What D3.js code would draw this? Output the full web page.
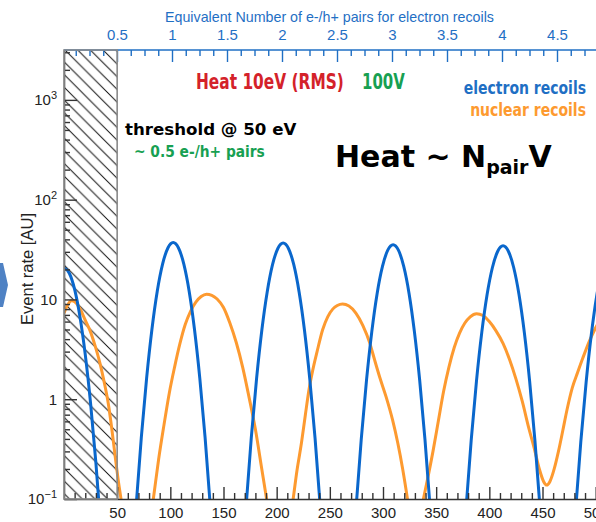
<!DOCTYPE html>
<html>
<head>
<meta charset="utf-8">
<script src="https://cdn.jsdelivr.net/npm/d3@7"></script>
<style>
  body { margin: 0; background: #fff; }
  svg { display: block; }
  .tick text { font-family: "Liberation Sans", Arial, sans-serif; }
</style>
</head>
<body>
<div id="graph"></div>
<script>
// electron recoils: [energy (eV), rate]
var electronRecoils = [
  [0, 20.7], [5, 18.3], [10, 12.6], [15, 6.72], [20, 2.8], [25, 0.91], [30, 0.23], [35, 0.045], [40, 0.007],
  [62.7, 0.0125], [67.7, 0.0814], [72.7, 0.413], [77.7, 1.63], [82.7, 5.03], [87.7, 12.1], [92.7, 22.6], [97.7, 32.8],
  [102.7, 37.2], [107.7, 32.8], [112.7, 22.6], [117.7, 12.1], [122.7, 5.03], [127.7, 1.63], [132.7, 0.413], [137.7, 0.0814], [142.7, 0.0125],
  [166.1, 0.0123], [171.1, 0.0803], [176.1, 0.408], [181.1, 1.61], [186.1, 4.97], [191.1, 11.9], [196.1, 22.3], [201.1, 32.4],
  [206.1, 36.7], [211.1, 32.4], [216.1, 22.3], [221.1, 11.9], [226.1, 4.97], [231.1, 1.61], [236.1, 0.408], [241.1, 0.0803], [246.1, 0.0123],
  [269.5, 0.0118], [274.5, 0.0772], [279.5, 0.392], [284.5, 1.55], [289.5, 4.78], [294.5, 11.5], [299.5, 21.4], [304.5, 31.2],
  [309.5, 35.3], [314.5, 31.2], [319.5, 21.4], [324.5, 11.5], [329.5, 4.78], [334.5, 1.55], [339.5, 0.392], [344.5, 0.0772], [349.5, 0.0118],
  [372.9, 0.0116], [377.9, 0.0755], [382.9, 0.383], [387.9, 1.52], [392.9, 4.67], [397.9, 11.2], [402.9, 20.9], [407.9, 30.4],
  [412.9, 34.5], [417.9, 30.4], [422.9, 20.9], [427.9, 11.2], [432.9, 4.67], [437.9, 1.52], [442.9, 0.383], [447.9, 0.0755], [452.9, 0.0116],
  [476, 0.0112], [481, 0.0733], [486, 0.372], [491, 1.47], [496, 4.53], [501, 10.9], [506, 20.3], [511, 29.6],
  [516, 33.5], [521, 29.6], [526, 20.3], [531, 10.9]
];

// nuclear recoils: [energy (eV), rate]
var nuclearRecoils = [
  [0, 7.3], [4, 9.0], [7, 9.7], [11, 9.3], [16, 7.7], [20, 6.2], [24.4, 4.9], [29, 3.5], [33.8, 2.3], [37.7, 1.5],
  [41.6, 0.91], [44.8, 0.52], [47.9, 0.28], [50.8, 0.16], [53.6, 0.1], [57, 0.055],
  [80, 0.05], [84, 0.1], [89, 0.25], [94, 0.55], [99, 1.15], [104, 2.1], [109, 3.6], [114, 5.6], [119, 7.6], [124, 9.4],
  [129, 10.7], [134, 11.3], [139, 11.0], [144, 10.1], [150, 8.3], [156, 5.8], [162, 3.7], [168, 2.1], [174, 1.05],
  [180, 0.5], [186, 0.2], [190.5, 0.1], [194, 0.055],
  [212, 0.055], [215.5, 0.1], [219, 0.19], [223.4, 0.37], [227, 0.7], [230.7, 1.3], [234, 1.97], [238, 3.0], [243.3, 5.0],
  [248, 6.7], [252.7, 8.0], [257, 8.7], [262, 9.0], [268, 8.6], [274.5, 7.3], [281, 5.5], [287.6, 3.65], [292, 2.5],
  [297, 1.65], [303, 1.05], [309, 0.62], [314, 0.36], [318.5, 0.2], [323, 0.1], [326, 0.06],
  [334, 0.06], [338, 0.1], [342, 0.16], [347, 0.3], [352, 0.6], [357, 1.2], [362, 2.1], [367, 3.3], [372, 4.6], [377, 5.8],
  [382, 6.7], [388, 7.2], [394, 6.9], [400, 6.0], [406, 4.9], [413, 3.6], [419, 2.5], [425, 1.6], [431, 0.95], [437, 0.52],
  [442, 0.33], [447, 0.2], [451, 0.15], [454, 0.138], [457, 0.15], [461, 0.2], [465, 0.3], [469, 0.48], [473, 0.78],
  [478, 1.3], [483, 1.85], [488, 2.6], [494, 3.8], [500, 5.2], [506, 6.6], [512, 7.6], [518, 8.0], [524, 7.9]
];

var energyTicks = [50, 100, 150, 200, 250, 300, 350, 400, 450, 500];
var pairTicks = [0.5, 1, 1.5, 2, 2.5, 3, 3.5, 4, 4.5];
var rateDecades = [0.1, 1, 10, 100, 1000];
var thresholdEnergy = 50;

var blue = "#0a67cc", orange = "#fd9a30", red = "#d4222a", green = "#17a052", textBlue = "#1f6fc4";

function draw() {
    var W = 596, H = 522;
    var frame = {left: 64, top: 50, bottom: 499, right: 702};

    var x = d3.scaleLinear().domain([0, 600]).range([frame.left, frame.right]);
    var xPair = d3.scaleLinear().domain([0, 5.8]).range([62, 62 + 5.8 * 110]);
    var y = d3.scaleLog().domain([0.1, 3162]).range([frame.bottom, frame.top]);

    var svg = d3.select("#graph").append("svg")
        .attr("width", W).attr("height", H);

    var defs = svg.append("defs");
    defs.append("clipPath").attr("id", "plotclip")
        .append("rect")
        .attr("x", frame.left).attr("y", frame.top)
        .attr("width", frame.right - frame.left).attr("height", frame.bottom - frame.top);
    var pat = defs.append("pattern").attr("id", "hatch")
        .attr("patternUnits", "userSpaceOnUse")
        .attr("width", 12.7).attr("height", 12.7)
        .attr("patternTransform", "translate(65," + frame.top + ")");
    pat.append("path")
        .attr("d", "M-1,-1L13.7,13.7M-1,11.7L1,13.7M11.7,-1L13.7,1")
        .attr("stroke", "#111").attr("stroke-width", 1);

    // slide arrow on the left edge
    svg.append("path")
        .attr("d", "M0,263L3,263L8,285L3,307L0,307Z")
        .attr("fill", "#4f82c4");

    // threshold hatched band
    svg.append("rect")
        .attr("x", x(0)).attr("y", frame.top)
        .attr("width", x(thresholdEnergy) - x(0)).attr("height", frame.bottom - frame.top)
        .attr("fill", "url(#hatch)");

    // curves
    var line = d3.line()
        .x(function(d) { return x(d[0]); })
        .y(function(d) { return y(d[1]); })
        .curve(d3.curveMonotoneX);

    var plot = svg.append("g").attr("clip-path", "url(#plotclip)");
    plot.append("path").datum(nuclearRecoils)
        .attr("d", line).attr("fill", "none")
        .attr("stroke", orange).attr("stroke-width", 3).attr("stroke-linejoin", "round");
    plot.append("path").datum(electronRecoils)
        .attr("d", line).attr("fill", "none")
        .attr("stroke", blue).attr("stroke-width", 3).attr("stroke-linejoin", "round");

    // bottom axis (ticks pointing up)
    var minorE = d3.range(10, 600, 10).filter(function(v) { return v % 50 !== 0; });
    svg.append("g").attr("transform", "translate(0," + frame.bottom + ")")
        .call(d3.axisBottom(x).tickValues(minorE).tickFormat("").tickSizeInner(-6).tickSizeOuter(0))
        .call(function(g) { g.select(".domain").remove(); });
    var gx = svg.append("g").attr("transform", "translate(0," + frame.bottom + ")")
        .call(d3.axisBottom(x).tickValues(energyTicks).tickFormat(d3.format("d"))
            .tickSizeInner(-12).tickSizeOuter(0).tickPadding(8));
    gx.selectAll(".tick text").attr("font-size", 15).attr("fill", "#222");
    svg.selectAll("line").attr("stroke", "#333").attr("stroke-width", 1.4);
    gx.select(".domain").attr("stroke", "#333").attr("stroke-width", 1.6);

    // left axis (log, ticks pointing right)
    var minorY = [];
    rateDecades.forEach(function(d) {
        for (var k = 2; k <= 9; k++) if (d * k < 3162) minorY.push(d * k);
    });
    var gyMinor = svg.append("g").attr("transform", "translate(" + frame.left + ",0)")
        .call(d3.axisLeft(y).tickValues(minorY).tickFormat("").tickSizeInner(-6).tickSizeOuter(0));
    gyMinor.select(".domain").remove();
    gyMinor.selectAll("line").attr("stroke", "#333").attr("stroke-width", 1.4);
    var gy = svg.append("g").attr("transform", "translate(" + frame.left + ",0)")
        .call(d3.axisLeft(y).tickValues(rateDecades).tickFormat("")
            .tickSizeInner(-13).tickSizeOuter(0).tickPadding(7));
    gy.selectAll("line").attr("stroke", "#333").attr("stroke-width", 1.4);
    gy.select(".domain").attr("stroke", "#555").attr("stroke-width", 1.6);
    gy.selectAll(".tick text").each(function(d) {
        var t = d3.select(this).attr("font-size", 15).attr("fill", "#222");
        var e = Math.round(Math.log10(d));
        if (e === 0) t.text("1");
        else if (e === 1) t.text("10");
        else {
            t.text("10");
            t.append("tspan").attr("dy", -6).attr("font-size", 11)
                .text(e < 0 ? "\u2212" + (-e) : e);
        }
    });

    // top axis: equivalent pairs (blue, ticks pointing down)
    var minorP = d3.range(1, 47).map(function(i) { return i * 0.125; })
        .filter(function(v) { return Math.abs(v * 2 - Math.round(v * 2)) > 1e-6; });
    var gtMinor = svg.append("g").attr("transform", "translate(0," + frame.top + ")")
        .call(d3.axisTop(xPair).tickValues(minorP).tickFormat("").tickSizeInner(-6).tickSizeOuter(0));
    gtMinor.select(".domain").remove();
    gtMinor.selectAll("line").attr("stroke", textBlue).attr("stroke-width", 1.4);
    var gt = svg.append("g").attr("transform", "translate(0," + frame.top + ")")
        .call(d3.axisTop(xPair).tickValues(pairTicks.concat([5, 5.5])).tickFormat(function(v) {
                return pairTicks.indexOf(v) >= 0 ? d3.format("~g")(v) : "";
            })
            .tickSizeInner(-12).tickSizeOuter(0).tickPadding(10));
    gt.select(".domain").remove();
    gt.selectAll("line").attr("stroke", textBlue).attr("stroke-width", 1.4);
    gt.selectAll(".tick text").attr("font-size", 15).attr("fill", textBlue);
    svg.append("line")
        .attr("x1", frame.left).attr("x2", frame.right)
        .attr("y1", frame.top).attr("y2", frame.top)
        .attr("stroke", textBlue).attr("stroke-width", 1.6);

    // border of the hatched band
    svg.append("rect")
        .attr("x", x(0)).attr("y", frame.top)
        .attr("width", x(thresholdEnergy) - x(0)).attr("height", frame.bottom - frame.top)
        .attr("fill", "none").attr("stroke", "#8a8a8a").attr("stroke-width", 1.6);

    // axis titles
    svg.append("text")
        .attr("x", 165).attr("y", 22)
        .attr("font-family", "Liberation Sans, Arial, sans-serif").attr("font-size", 15)
        .attr("fill", textBlue)
        .attr("textLength", 329).attr("lengthAdjust", "spacingAndGlyphs")
        .text("Equivalent Number of e-/h+ pairs for electron recoils");

    svg.append("text")
        .attr("text-anchor", "middle")
        .attr("transform", "translate(33,269)rotate(-90)")
        .attr("font-family", "Liberation Sans, Arial, sans-serif").attr("font-size", 16)
        .attr("fill", "#222")
        .attr("textLength", 112).attr("lengthAdjust", "spacingAndGlyphs")
        .text("Event rate [AU]");

    // annotations, horizontally squeezed like the slide
    function note(str, x0, y0, size, color, sx, anchor) {
        return svg.append("text")
            .attr("transform", "translate(" + x0 + "," + y0 + ")scale(" + sx + ",1)")
            .attr("text-anchor", anchor || "start")
            .attr("font-family", "DejaVu Sans, Verdana, sans-serif")
            .attr("font-weight", "bold").attr("font-size", size)
            .attr("fill", color)
            .text(str);
    }
    note("Heat 10eV (RMS)", 196, 89, 22, red, 0.70);
    note("100V", 362, 89, 22, green, 0.68);
    note("electron recoils", 586, 94, 17.5, textBlue, 0.80, "end");
    note("nuclear recoils", 586, 116, 17.5, orange, 0.80, "end");
    note("threshold @ 50 eV", 125, 135, 16, "#000", 1.04);
    note("~ 0.5 e-/h+ pairs", 134, 157, 15, green, 0.92);

    var big = svg.append("text")
        .attr("x", 335).attr("y", 167)
        .attr("font-family", "DejaVu Sans, Verdana, sans-serif")
        .attr("font-weight", "bold").attr("font-size", 30)
        .attr("fill", "#000");
    big.append("tspan").text("Heat ~ N");
    big.append("tspan").attr("dy", 7).attr("font-size", 19).text("pair");
    big.append("tspan").attr("dy", -7).text("V");
}

draw();
</script>
</body>
</html>
